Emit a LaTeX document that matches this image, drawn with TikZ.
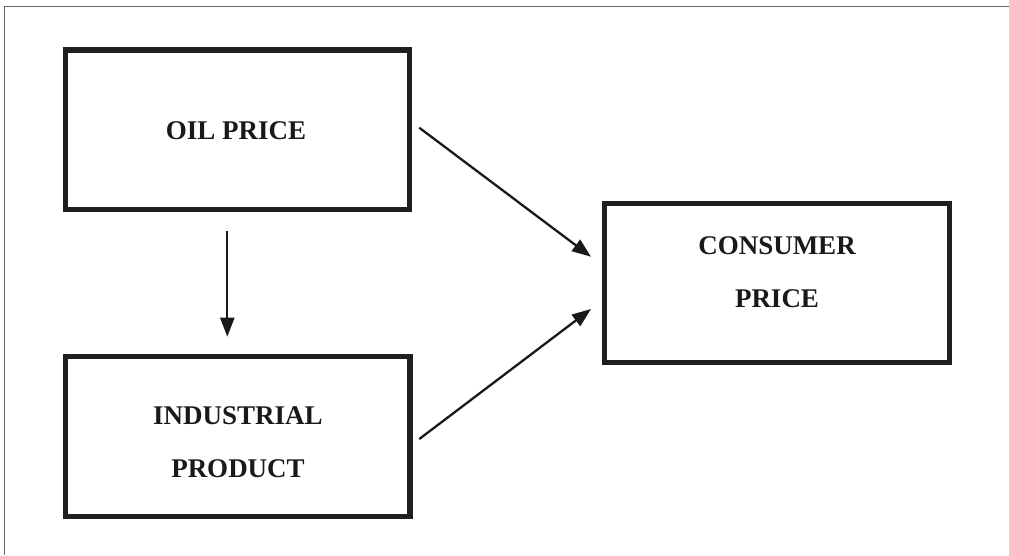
\documentclass[tikz,border=0pt]{standalone}
\usepackage{fontspec}
\setmainfont{Liberation Serif}
\usetikzlibrary{arrows.meta,positioning}
\begin{document}
\begin{tikzpicture}[x=1pt,y=-1pt,
  box/.style={draw=black!88,line width=5.3pt,outer sep=0pt,inner sep=0pt},
  lbl/.style={font=\fontsize{27}{53}\selectfont\bfseries,align=center,text=black!90,inner sep=0pt},
  arr/.style={draw=black!90,line width=2.3pt,-{Triangle[length=19pt,width=14pt]}},
  frame/.style={draw=black!60,line width=1.3pt}]
\useasboundingbox (0,0) rectangle (1009,555);
\draw[frame] (4.5,555) -- (4.5,6.5) -- (1009,6.5);
\node[box,minimum width=344pt,minimum height=159.5pt] (oil) at (237.5,129.75) {};
\node[box,minimum width=344.5pt,minimum height=160.2pt] (ind) at (237.75,436.4) {};
\node[box,minimum width=344.8pt,minimum height=159pt] (con) at (777.1,283) {};
\node[lbl] (toil) at (236,131) {OIL PRICE};
\node[lbl] (tind) at (238,442.5) {INDUSTRIAL\\PRODUCT};
\node[lbl] (tcon) at (777,272.5) {CONSUMER\\PRICE};
\draw[arr] ([xshift=9.8pt,yshift=2pt]oil.east) -- ([xshift=-13.7pt,yshift=26.3pt]con.west);
\draw[arr] ([xshift=9.3pt,yshift=-2.6pt]ind.east) -- ([xshift=-13.7pt,yshift=-26pt]con.west);
\draw[arr] ([xshift=-10.2pt,yshift=-21.2pt]oil.south) -- ([xshift=-10.45pt,yshift=19.6pt]ind.north);
\end{tikzpicture}
\end{document}
